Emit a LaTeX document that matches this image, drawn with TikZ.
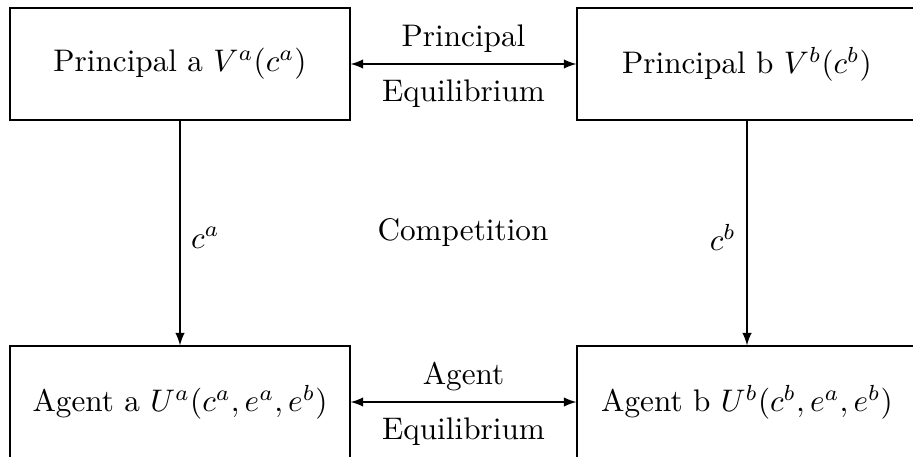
\documentclass[tikz,border=0pt]{standalone}
\usetikzlibrary{arrows}
\begin{document}
\begin{tikzpicture}[x=0.3205pt,y=-0.3205pt,
  box/.style={draw, minimum width=109pt, minimum height=35.9pt, inner sep=0pt},
  conn/.style={latex-latex},
  flow/.style={-latex}]
\useasboundingbox (0,0) rectangle (913,458);
\clip (0,0) rectangle (913,456.8);
\node[box] (pa) at (180,64) {Principal a $V^a(c^a)$};
\node[box] (pb) at (747,64) {Principal b $V^b(c^b)$};
\node[box] (aa) at (180,402) {Agent a $U^a(c^a,e^a,e^b)$};
\node[box] (ab) at (747,402) {Agent b $U^b(c^b,e^a,e^b)$};
\draw[conn] (pa) -- (pb) node[midway,above] {Principal} node[midway,below=1.4pt] {Equilibrium};
\draw[conn] (aa) -- (ab) node[midway,above] {Agent} node[midway,below=1.4pt] {Equilibrium};
\draw[flow] (pa) -- (aa) node[midway,right,yshift=-1.5pt] {$c^a$};
\draw[flow] (pb) -- (ab) node[midway,left,yshift=-1.5pt] {$c^b$};
\node (comp) at (463,233) {Competition};
\end{tikzpicture}
\end{document}
